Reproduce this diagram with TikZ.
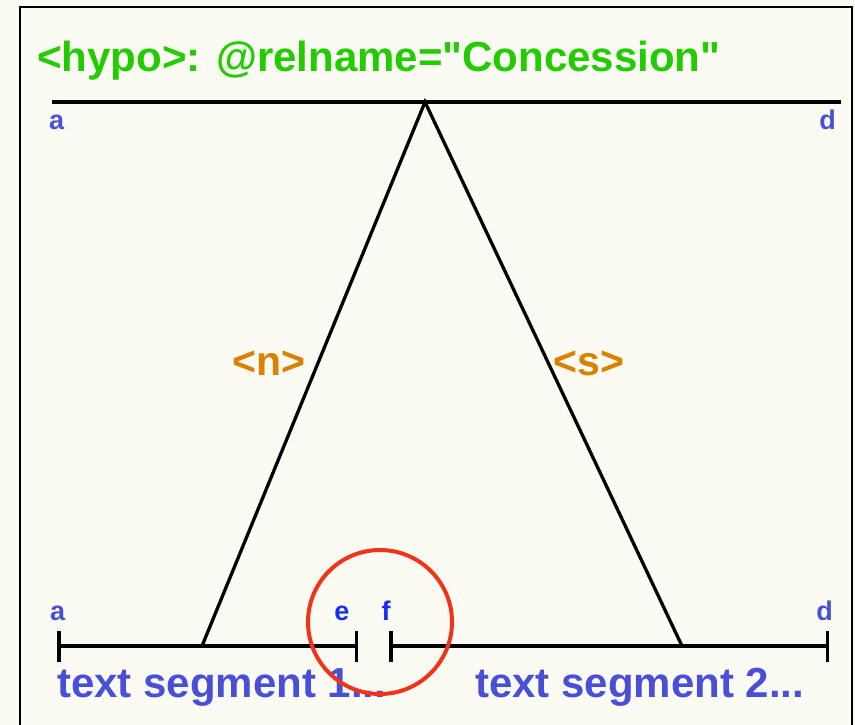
\documentclass[tikz,border=0pt]{standalone}
\usepackage{fontspec}
\setmainfont{Liberation Sans}[Ligatures=TeXOff]
\usepackage{tikz}
\usetikzlibrary{arrows.meta,positioning}
\definecolor{paper}{RGB}{252,251,243}
\definecolor{relgreen}{RGB}{34,204,0}
\definecolor{segblue}{RGB}{72,80,216}
\definecolor{cutblue}{RGB}{20,48,245}
\definecolor{nucorange}{RGB}{219,129,0}
\definecolor{ringred}{RGB}{240,52,26}

\begin{document}
\begin{tikzpicture}[x=1bp,y=-1bp,
    lbl/.style={inner sep=0pt,text=segblue,font=\fontsize{27bp}{27bp}\selectfont\bfseries},
    seg/.style={inner sep=0pt,text=segblue,font=\fontsize{42bp}{42bp}\selectfont\bfseries},
    role/.style={inner sep=0pt,text=nucorange,font=\fontsize{41bp}{41bp}\selectfont\bfseries},
    span/.style={line width=3.5bp,{Bar[width=31bp]}-{Bar[width=31bp]}}]
    \fill[paper] (0,0) rectangle (855,725);
    \useasboundingbox (0,0) rectangle (855,725);
    \draw[line width=1.8bp] (20,740) -- (20,7) -- (852,7) -- (852,740);
    \node[inner sep=0pt,anchor=base west,text=relgreen,font=\fontsize{42bp}{42bp}\selectfont\bfseries]
      (title) at (37,72) {<hypo>: @relname="Concession"};
    % upper span and the two legs
    \coordinate (ta) at (52,102);
    \coordinate (td) at (841,102);
    \coordinate (apex) at (425,102);
    \coordinate (nfoot) at (202,646);
    \coordinate (sfoot) at (682,646);
    \draw[line width=4.5bp] (ta) -- (td);
    \draw[line width=3.3bp] (nfoot) -- (apex) -- (sfoot);
    \node[lbl,anchor=base west] (topa) at (49,130) {a};
    \node[lbl,anchor=base east] (topd) at (836,130) {d};
    \node[role] (nuc) at (269,363) {<n>};
    \node[role] (sat) at (589,363) {<s>};
    % lower spans
    \coordinate (ba) at (57,646);
    \coordinate (be) at (358,646);
    \coordinate (bf) at (389,646);
    \coordinate (bd) at (829,646);
    \draw[span] (ba) -- (be);
    \draw[span] (bf) -- (bd);
    \node[lbl,anchor=base west] (bota) at (50,620) {a};
    \node[lbl,anchor=base east] (botd) at (833,620) {d};
    \node[lbl,text=cutblue,anchor=base] (bote) at (342,620) {e};
    \node[lbl,text=cutblue,anchor=base] (botf) at (386,620) {f};
    \node[seg,anchor=base west] (seg1) at (57,697) {text segment 1...};
    \node[seg,anchor=base west] (seg2) at (475,697) {text segment 2...};
    \draw[ringred,line width=4bp] (380,622) circle (72);
\end{tikzpicture}
\end{document}
